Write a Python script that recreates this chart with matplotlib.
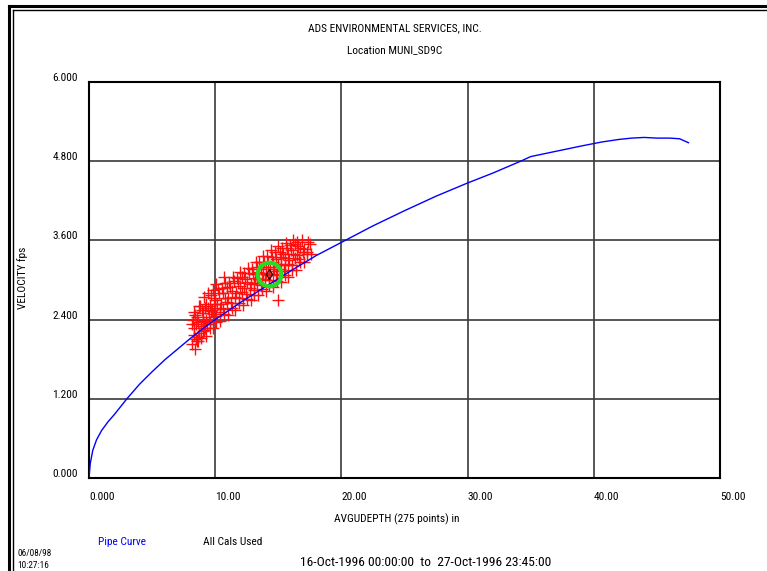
import matplotlib
matplotlib.use("Agg")
import matplotlib.pyplot as plt
from matplotlib import font_manager
from matplotlib.lines import Line2D

# narrow plotter-like lettering if one is installed
installed = {f.name for f in font_manager.fontManager.ttflist}
narrow = [n for n in ['Liberation Sans Narrow', 'DejaVu Sans Condensed', 'Roboto Condensed',
                      'Open Sans Condensed', 'Noto Sans Condensed'] if n in installed]
plt.rcParams['font.family'] = narrow + ['Liberation Sans', 'DejaVu Sans']
FS = 8.2 if narrow else 7.5

# pipe curve (depth in, velocity fps)
curve_depth = [0.0, 0.1, 0.3, 0.6, 1.0, 1.5, 2.0, 3.0, 4.0, 5.0, 6.0, 7.0, 8.0, 9.0,
               10.0, 12.0, 14.0, 16.0, 18.0, 20.3, 22.5, 25.0, 27.5, 30.0, 32.0,
               34.2, 35.0, 37.0, 39.0, 40.6, 42.0, 43.0, 44.0, 45.0, 46.0, 46.8, 47.5]
curve_vel = [0.0, 0.22, 0.42, 0.58, 0.72, 0.85, 0.96, 1.20, 1.42, 1.61, 1.79, 1.95,
             2.11, 2.26, 2.40, 2.66, 2.90, 3.14, 3.37, 3.60, 3.82, 4.05, 4.27, 4.47,
             4.62, 4.80, 4.87, 4.95, 5.03, 5.09, 5.13, 5.15, 5.16, 5.15, 5.15, 5.14, 5.08]

# calibration points (275 in the original, overlapping heavily)
cal_depth = [8.2, 8.3, 8.15, 8.25, 8.3,
             8.4, 8.45, 8.35, 8.5, 8.4, 8.55,
             8.6, 8.7, 8.65, 8.55, 8.7, 8.6,
             8.9, 8.85, 9.0, 8.95, 8.8, 9.0,
             9.1, 9.15, 9.05, 9.2, 9.1, 9.2,
             9.3, 9.35, 9.25, 9.4, 9.3, 9.4,
             9.6, 9.55, 9.65, 9.6, 9.7, 9.5,
             9.8, 9.85, 9.75, 9.9, 9.8, 9.95,
             10.1, 10.05, 10.15, 10.0, 10.2, 10.1,
             10.4, 10.35, 10.45, 10.3, 10.5, 10.4,
             10.7, 10.65, 10.75, 10.6, 10.8, 10.7,
             11.0, 10.95, 11.05, 10.9, 11.1,
             11.3, 11.25, 11.35, 11.2, 11.4,
             11.6, 11.55, 11.65, 11.5, 11.7,
             11.9, 11.85, 11.95, 11.8, 12.0,
             12.2, 12.15, 12.25, 12.1, 12.3,
             12.5, 12.45, 12.55, 12.4, 12.6,
             12.8, 12.75, 12.85, 12.7, 12.9,
             13.1, 13.05, 13.15, 13.0, 13.2, 13.1,
             13.4, 13.35, 13.45, 13.3, 13.5, 13.4,
             13.7, 13.65, 13.75, 13.6, 13.8, 13.7,
             14.0, 13.95, 14.05, 13.9, 14.1, 14.0,
             14.3, 14.25, 14.35, 14.2, 14.4, 14.3,
             14.6, 14.55, 14.65, 14.5, 14.7, 14.6,
             14.9, 14.85, 14.95, 14.8, 15.0, 14.9,
             15.0,
             15.2, 15.15, 15.25, 15.1, 15.3, 15.2,
             15.5, 15.45, 15.55, 15.4, 15.6, 15.5,
             15.8, 15.75, 15.85, 15.7, 15.9, 15.8,
             16.1, 16.05, 16.15, 16.0, 16.2,
             16.4, 16.35, 16.45, 16.3, 16.5,
             16.7, 16.65, 16.75, 16.6,
             17.0, 16.95, 17.05, 16.9,
             17.3, 17.25, 17.35,
             17.6, 17.55]
cal_vel = [2.03, 2.16, 2.34, 2.40, 2.52,
           1.96, 2.10, 2.28, 2.33, 2.47, 2.07,
           2.08, 2.20, 2.36, 2.44, 2.61, 2.14,
           2.12, 2.31, 2.38, 2.55, 2.60, 2.23,
           2.24, 2.33, 2.50, 2.57, 2.74, 2.27,
           2.15, 2.34, 2.40, 2.58, 2.64, 2.80,
           2.28, 2.36, 2.53, 2.60, 2.78, 2.44,
           2.27, 2.48, 2.55, 2.73, 2.85, 2.64,
           2.36, 2.46, 2.63, 2.70, 2.87, 2.94,
           2.38, 2.58, 2.64, 2.81, 2.88, 2.52,
           2.48, 2.56, 2.73, 2.80, 2.96, 3.05,
           2.47, 2.66, 2.72, 2.89, 2.95,
           2.58, 2.65, 2.83, 2.90, 3.05,
           2.55, 2.75, 2.81, 2.98, 3.03,
           2.65, 2.73, 2.91, 2.96, 3.12,
           2.62, 2.82, 2.88, 3.05, 3.10,
           2.71, 2.79, 2.97, 3.02, 3.18,
           2.69, 2.88, 2.94, 3.11, 3.17,
           2.78, 2.85, 3.03, 3.09, 3.27, 2.96,
           2.77, 2.95, 3.01, 3.19, 3.27, 3.12,
           2.86, 2.93, 3.11, 3.17, 3.37, 3.00,
           2.83, 3.02, 3.09, 3.28, 3.37, 3.20,
           2.93, 3.00, 3.19, 3.26, 3.45, 3.07,
           2.90, 3.09, 3.16, 3.35, 3.43, 3.27,
           2.99, 3.07, 3.25, 3.32, 3.51, 3.13,
           2.70,
           2.97, 3.16, 3.23, 3.42, 3.49, 3.35,
           3.07, 3.14, 3.33, 3.39, 3.56, 3.22,
           3.05, 3.24, 3.30, 3.48, 3.53, 3.40,
           3.15, 3.22, 3.40, 3.45, 3.60,
           3.15, 3.33, 3.38, 3.55, 3.57,
           3.27, 3.32, 3.48, 3.52,
           3.27, 3.43, 3.47, 3.61,
           3.39, 3.43, 3.57,
           3.40, 3.54]

# highlighted calibration
sel_depth = [14.3]
sel_vel = [3.09]

x_ticks = [0, 10, 20, 30, 40, 50]
x_labels = ['0.000', '10.00', '20.00', '30.00', '40.00', '50.00']
y_ticks = [0.0, 1.2, 2.4, 3.6, 4.8, 6.0]
y_labels = ['0.000', '1.200', '2.400', '3.600', '4.800', '6.000']

fig = plt.figure(figsize=(7.67, 5.71), dpi=100)
ax = fig.add_axes([89 / 767, 93 / 571, 631 / 767, 396 / 571])

ax.set_xlim(0, 50)
ax.set_ylim(0, 6)
ax.set_xticks(x_ticks)
ax.set_yticks(y_ticks)
ax.set_xticklabels([])
ax.set_yticklabels([])
ax.tick_params(length=0)
ax.grid(True, color='#3a3a3a', linewidth=1.2)
for s in ax.spines.values():
    s.set_linewidth(1.5)
    s.set_color('black')

ax.plot(cal_depth, cal_vel, linestyle='none', marker='+', color='#ff1010',
        markersize=9, markeredgewidth=1.0, zorder=3)
ax.plot(curve_depth, curve_vel, color='#0000ff', linewidth=1.0, zorder=4)
ax.plot(sel_depth, sel_vel, linestyle='none', marker='o', markersize=17,
        markerfacecolor='none', markeredgecolor='#22dd22', markeredgewidth=3, zorder=5)
ax.plot(sel_depth, sel_vel, linestyle='none', marker='d', markersize=5,
        markerfacecolor='none', markeredgecolor='#400000', markeredgewidth=1, zorder=6)

# tick labels drawn like the original plotter output
for t, lab in zip(x_ticks, x_labels):
    ax.annotate(lab, xy=(t, 0), xytext=(0, -19), textcoords='offset pixels',
                ha='left', va='center', fontsize=FS)
for t, lab in zip(y_ticks, y_labels):
    ax.annotate(lab, xy=(0, t), xytext=(-11, 4), textcoords='offset pixels',
                ha='right', va='center', fontsize=FS)

def fx(px):
    return px / 767

def fy(py):
    return 1 - py / 571

fig.text(fx(395), fy(28), 'ADS ENVIRONMENTAL SERVICES, INC.', ha='center', va='center', fontsize=FS)
fig.text(fx(395), fy(50), 'Location MUNI_SD9C', ha='center', va='center', fontsize=FS)
fig.text(fx(23), fy(278), 'VELOCITY fps', ha='center', va='center', rotation=90, fontsize=FS)
fig.text(fx(397), fy(519), 'AVGUDEPTH (275 points) in', ha='center', va='center', fontsize=FS)
fig.text(fx(98), fy(542), 'Pipe Curve', ha='left', va='center', fontsize=FS, color='#0000ff')
fig.text(fx(203), fy(542), 'All Cals Used', ha='left', va='center', fontsize=FS)
fig.text(fx(17), fy(553), '06/08/98', ha='left', va='center', fontsize=FS - 1.5)
fig.text(fx(17), fy(565), '10:27:16', ha='left', va='center', fontsize=FS - 1.5)
fig.text(fx(300), fy(563), '16-Oct-1996 00:00:00  to  27-Oct-1996 23:45:00',
         ha='left', va='center', fontsize=FS + 1.5)

# page frame (double line)
fig.add_artist(Line2D([fx(9), fx(9)], [0, fy(6)], color='black', linewidth=2.2))
fig.add_artist(Line2D([fx(9), 1], [fy(6), fy(6)], color='black', linewidth=2.2))
fig.add_artist(Line2D([fx(12.5), fx(12.5)], [0, fy(9.5)], color='black', linewidth=1))
fig.add_artist(Line2D([fx(12.5), 1], [fy(9.5), fy(9.5)], color='black', linewidth=1))

fig.savefig('out.png', dpi=100)
